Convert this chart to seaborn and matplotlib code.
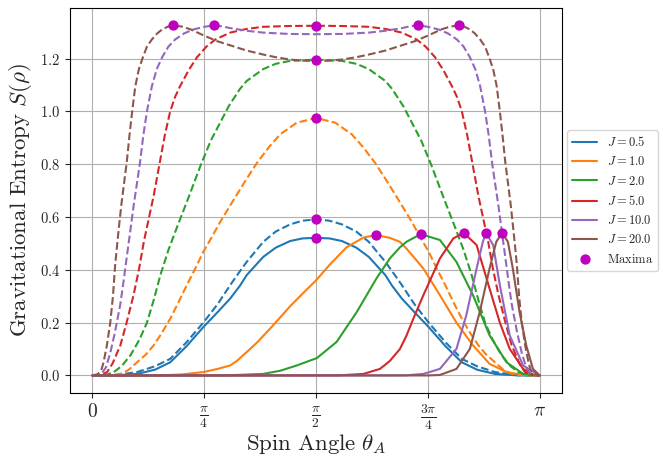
import numpy as np
import matplotlib
matplotlib.use("Agg")
import matplotlib.pyplot as plt
import seaborn as sns

# ---- data: spin angle in units of pi, entropy in nats -------------------
couplings = [0.5, 1.0, 2.0, 5.0, 10.0, 20.0]
legend_labels = [r"$J = 0.5$", r"$J = 1.0$", r"$J = 2.0$",
                 r"$J = 5.0$", r"$J = 10.0$", r"$J = 20.0$"]

# solid curves (single-spin entropy)
t_solid_05 = [0, 0.05, 0.1, 0.14, 0.174, 0.21, 0.248, 0.28, 0.308, 0.33, 0.345, 0.382, 0.41, 0.442, 0.47, 0.5,
              0.53, 0.558, 0.59, 0.618, 0.655, 0.67, 0.692, 0.72, 0.752, 0.79, 0.826, 0.86, 0.9, 0.95, 1.0]
s_solid_05 = [0, 0.0005, 0.006, 0.022, 0.05, 0.11, 0.183, 0.24, 0.291, 0.34, 0.38, 0.449, 0.484, 0.509, 0.519, 0.521,
              0.519, 0.509, 0.484, 0.449, 0.38, 0.34, 0.291, 0.24, 0.183, 0.11, 0.05, 0.022, 0.006, 0.0005, 0]

t_solid_1 = [0, 0.15, 0.2, 0.248, 0.28, 0.308, 0.323, 0.353, 0.37, 0.397, 0.42, 0.442, 0.47, 0.5, 0.531, 0.568,
             0.606, 0.634, 0.665, 0.6875, 0.702, 0.74, 0.777, 0.814, 0.851, 0.888, 0.926, 0.96, 1.0]
s_solid_1 = [0, 0.0005, 0.004, 0.013, 0.025, 0.038, 0.055, 0.101, 0.128, 0.177, 0.22, 0.262, 0.31, 0.36, 0.42, 0.485,
             0.522, 0.532, 0.521, 0.506, 0.481, 0.405, 0.304, 0.2, 0.114, 0.044, 0.013, 0.003, 0]

t_solid_2 = [0, 0.3, 0.382, 0.42, 0.457, 0.502, 0.546, 0.591, 0.635, 0.665, 0.6875, 0.702, 0.734,
             0.777, 0.814, 0.851, 0.888, 0.926, 0.963, 1.0]
s_solid_2 = [0, 0.0005, 0.006, 0.018, 0.038, 0.066, 0.127, 0.24, 0.367, 0.443, 0.485, 0.506, 0.535,
             0.513, 0.43, 0.304, 0.152, 0.05, 0.006, 0]

t_solid_5 = [0, 0.55, 0.606, 0.643, 0.665, 0.6875, 0.702, 0.72, 0.74, 0.777, 0.807, 0.83,
             0.859, 0.888, 0.911, 0.933, 0.963, 0.985, 1.0]
s_solid_5 = [0, 0.0005, 0.006, 0.025, 0.055, 0.1, 0.15, 0.225, 0.304, 0.443, 0.519, 0.54,
             0.494, 0.329, 0.2, 0.101, 0.025, 0.003, 0]

t_solid_10 = [0, 0.7, 0.74, 0.777, 0.814, 0.836, 0.859, 0.873, 0.88, 0.896, 0.911, 0.933, 0.963, 1.0]
s_solid_10 = [0, 0.0005, 0.006, 0.025, 0.101, 0.228, 0.405, 0.506, 0.54, 0.494, 0.342, 0.152, 0.038, 0]

t_solid_20 = [0, 0.75, 0.777, 0.814, 0.844, 0.866, 0.888, 0.903, 0.916, 0.929, 0.94, 0.955, 0.97, 0.985, 1.0]
s_solid_20 = [0, 0.0002, 0.002, 0.025, 0.101, 0.24, 0.405, 0.506, 0.54, 0.506, 0.405, 0.24, 0.114, 0.025, 0]

# dashed curves (joint entropy)
t_dash_05 = [0, 0.05, 0.1, 0.14, 0.174, 0.21, 0.248, 0.28, 0.308, 0.33, 0.345, 0.382, 0.41, 0.442, 0.47, 0.5,
             0.53, 0.558, 0.59, 0.618, 0.655, 0.67, 0.692, 0.72, 0.752, 0.79, 0.826, 0.86, 0.9, 0.95, 1.0]
s_dash_05 = [0, 0.001, 0.013, 0.035, 0.063, 0.125, 0.2, 0.27, 0.342, 0.395, 0.43, 0.506, 0.545, 0.572, 0.586, 0.591,
             0.586, 0.572, 0.545, 0.506, 0.43, 0.395, 0.342, 0.27, 0.2, 0.125, 0.063, 0.035, 0.013, 0.001, 0]

t_dash_1 = [0, 0.04, 0.0625, 0.08, 0.1, 0.12, 0.137, 0.155, 0.174, 0.192, 0.211, 0.23, 0.248, 0.268, 0.286,
            0.305, 0.323, 0.345, 0.368, 0.395, 0.42, 0.457, 0.5,
            0.543, 0.58, 0.605, 0.632, 0.655, 0.677, 0.695, 0.714, 0.732, 0.752, 0.77, 0.789, 0.808,
            0.826, 0.845, 0.863, 0.88, 0.9, 0.92, 0.9375, 0.96, 1.0]
s_dash_1 = [0, 0.001, 0.006, 0.02, 0.05, 0.08, 0.114, 0.16, 0.215, 0.275, 0.342, 0.405, 0.468, 0.527, 0.582,
            0.635, 0.685, 0.745, 0.805, 0.865, 0.913, 0.957, 0.975,
            0.957, 0.913, 0.865, 0.805, 0.745, 0.685, 0.635, 0.582, 0.527, 0.468, 0.405, 0.342, 0.275,
            0.215, 0.16, 0.114, 0.08, 0.05, 0.02, 0.006, 0.001, 0]

t_dash_2 = [0, 0.03, 0.048, 0.065, 0.085, 0.105, 0.122, 0.137, 0.152, 0.17, 0.19, 0.213, 0.243, 0.265, 0.285,
            0.305, 0.33, 0.345, 0.382, 0.41, 0.442, 0.5,
            0.558, 0.59, 0.618, 0.655, 0.67, 0.695, 0.715, 0.735, 0.757, 0.787, 0.81, 0.83, 0.848,
            0.863, 0.878, 0.895, 0.915, 0.935, 0.952, 0.97, 1.0]
s_dash_2 = [0, 0.002, 0.013, 0.035, 0.076, 0.135, 0.2, 0.285, 0.38, 0.475, 0.565, 0.665, 0.8, 0.89, 0.955,
            1.02, 1.085, 1.115, 1.16, 1.18, 1.191, 1.196,
            1.191, 1.18, 1.16, 1.115, 1.085, 1.02, 0.955, 0.89, 0.8, 0.665, 0.565, 0.475, 0.38,
            0.285, 0.2, 0.135, 0.076, 0.035, 0.013, 0.002, 0]

t_dash_5 = [0, 0.02, 0.033, 0.045, 0.0625, 0.075, 0.092, 0.104, 0.115, 0.125, 0.137, 0.15, 0.162, 0.174,
            0.185, 0.196, 0.215, 0.234, 0.255, 0.275, 0.308, 0.345, 0.382, 0.44, 0.5,
            0.56, 0.618, 0.655, 0.692, 0.725, 0.745, 0.766, 0.785, 0.804, 0.815, 0.826, 0.838, 0.85,
            0.863, 0.875, 0.885, 0.896, 0.908, 0.925, 0.9375, 0.955, 0.967, 0.98, 1.0]
s_dash_5 = [0, 0.003, 0.013, 0.045, 0.114, 0.19, 0.304, 0.4, 0.506, 0.585, 0.68, 0.8, 0.91, 1.0,
            1.055, 1.095, 1.155, 1.205, 1.245, 1.272, 1.298, 1.312, 1.32, 1.323, 1.324,
            1.323, 1.32, 1.312, 1.298, 1.272, 1.245, 1.205, 1.155, 1.095, 1.055, 1.0, 0.91, 0.8,
            0.68, 0.585, 0.506, 0.4, 0.304, 0.19, 0.114, 0.045, 0.013, 0.003, 0]

t_dash_10 = [0, 0.02, 0.03, 0.04, 0.05, 0.0625, 0.07, 0.077, 0.085, 0.092, 0.099, 0.106, 0.114, 0.122,
             0.133, 0.144, 0.156, 0.17, 0.185, 0.205, 0.226, 0.25, 0.271, 0.29, 0.308, 0.345, 0.382, 0.44, 0.5,
             0.56, 0.618, 0.655, 0.692, 0.71, 0.729, 0.75, 0.774, 0.795, 0.815, 0.83, 0.844, 0.856, 0.867,
             0.878, 0.886, 0.894, 0.901, 0.908, 0.915, 0.923, 0.93, 0.9375, 0.95, 0.96, 0.97, 0.98, 1.0]
s_dash_10 = [0, 0.005, 0.03, 0.085, 0.16, 0.27, 0.36, 0.45, 0.55, 0.64, 0.72, 0.8, 0.91, 1.0,
             1.095, 1.16, 1.205, 1.245, 1.272, 1.295, 1.31, 1.32, 1.325, 1.322, 1.315, 1.305, 1.298, 1.293, 1.292,
             1.293, 1.298, 1.305, 1.315, 1.322, 1.325, 1.32, 1.31, 1.295, 1.272, 1.245, 1.205, 1.16, 1.095,
             1.0, 0.91, 0.8, 0.72, 0.64, 0.55, 0.45, 0.36, 0.27, 0.16, 0.085, 0.03, 0.005, 0]

t_dash_20 = [0, 0.012, 0.02, 0.025, 0.032, 0.04, 0.046, 0.051, 0.058, 0.065, 0.071, 0.077, 0.083, 0.089,
             0.096, 0.104, 0.113, 0.122, 0.133, 0.145, 0.156, 0.168, 0.18, 0.2, 0.22, 0.248, 0.28, 0.308,
             0.345, 0.382, 0.41, 0.442, 0.47, 0.5,
             0.53, 0.558, 0.59, 0.618, 0.655, 0.692, 0.72, 0.752, 0.78, 0.8, 0.82, 0.832, 0.844, 0.855,
             0.867, 0.878, 0.887, 0.896, 0.904, 0.911, 0.917, 0.923, 0.929, 0.935, 0.942, 0.949, 0.954,
             0.96, 0.968, 0.975, 0.98, 0.988, 1.0]
s_dash_20 = [0, 0.005, 0.02, 0.05, 0.11, 0.2, 0.3, 0.42, 0.54, 0.65, 0.73, 0.81, 0.91, 1.0,
             1.095, 1.16, 1.205, 1.245, 1.272, 1.295, 1.31, 1.32, 1.325, 1.321, 1.31, 1.288, 1.265, 1.25,
             1.23, 1.215, 1.205, 1.196, 1.192, 1.19,
             1.192, 1.196, 1.205, 1.215, 1.23, 1.25, 1.265, 1.288, 1.31, 1.321, 1.325, 1.32, 1.31, 1.295,
             1.272, 1.245, 1.205, 1.16, 1.095, 1.0, 0.91, 0.81, 0.73, 0.65, 0.54, 0.42, 0.3,
             0.2, 0.11, 0.05, 0.02, 0.005, 0]

# maxima of every curve
max_t = [0.5, 0.634, 0.734, 0.83, 0.88, 0.916,
         0.5, 0.5, 0.5, 0.5, 0.271, 0.729, 0.18, 0.82]
max_s = [0.521, 0.532, 0.535, 0.54, 0.54, 0.54,
         0.591, 0.975, 1.196, 1.324, 1.325, 1.325, 1.325, 1.325]

solid_t = [t_solid_05, t_solid_1, t_solid_2, t_solid_5, t_solid_10, t_solid_20]
solid_s = [s_solid_05, s_solid_1, s_solid_2, s_solid_5, s_solid_10, s_solid_20]
dash_t = [t_dash_05, t_dash_1, t_dash_2, t_dash_5, t_dash_10, t_dash_20]
dash_s = [s_dash_05, s_dash_1, s_dash_2, s_dash_5, s_dash_10, s_dash_20]

xtick_vals = [0, 0.25, 0.5, 0.75, 1.0]
xtick_labels = [r"$0$", r"$\frac{\pi}{4}$", r"$\frac{\pi}{2}$", r"$\frac{3\pi}{4}$", r"$\pi$"]
ytick_vals = [0.0, 0.2, 0.4, 0.6, 0.8, 1.0, 1.2]

# ---- style -----------------------------------------------------------------
sns.set_style("ticks")
plt.rcParams["font.family"] = ["cmr10", "DejaVu Serif"]
plt.rcParams["mathtext.fontset"] = "cm"
plt.rcParams["axes.formatter.use_mathtext"] = True
plt.rcParams["axes.unicode_minus"] = False

colors = sns.color_palette("tab10")[:6]

fig = plt.figure(figsize=(6.63, 4.59), dpi=100)
ax = fig.add_axes([0.1056, 0.1438, 0.7421, 0.8388])

for i in range(len(couplings)):
    xs = np.array(solid_t[i]) * np.pi
    sns.lineplot(x=xs, y=solid_s[i], color=colors[i], linewidth=1.5,
                 estimator=None, sort=False, label=legend_labels[i], ax=ax)
    xd = np.array(dash_t[i]) * np.pi
    sns.lineplot(x=xd, y=dash_s[i], color=colors[i], linewidth=1.5, linestyle="--",
                 estimator=None, sort=False, ax=ax)

sns.scatterplot(x=np.array(max_t) * np.pi, y=max_s, color="m", s=55, linewidth=0,
                zorder=5, label=r"$\mathrm{Maxima}$", ax=ax)

ax.set_xticks(np.array(xtick_vals) * np.pi)
ax.set_xticklabels(xtick_labels, fontsize=14)
ax.set_yticks(ytick_vals)
ax.set_yticklabels([rf"${v:.1f}$" for v in ytick_vals], fontsize=10.5)
ax.grid(True, color="#b0b0b0", linewidth=0.8)
for sp in ax.spines.values():
    sp.set_visible(True)
    sp.set_color("black")
    sp.set_linewidth(0.8)

ax.set_xlabel(r"$\mathrm{Spin\ Angle}\ \theta_A$", fontsize=16.5, labelpad=0)
ax.set_ylabel(r"$\mathrm{Gravitational\ Entropy}\ S(\rho)$", fontsize=16.5)

ax.legend(loc="center left", bbox_to_anchor=(1.0, 0.5), fontsize=9, frameon=True,
          borderaxespad=0.4, handlelength=2.0, borderpad=0.4, labelspacing=0.5)

fig.savefig("out.png", dpi=100)
